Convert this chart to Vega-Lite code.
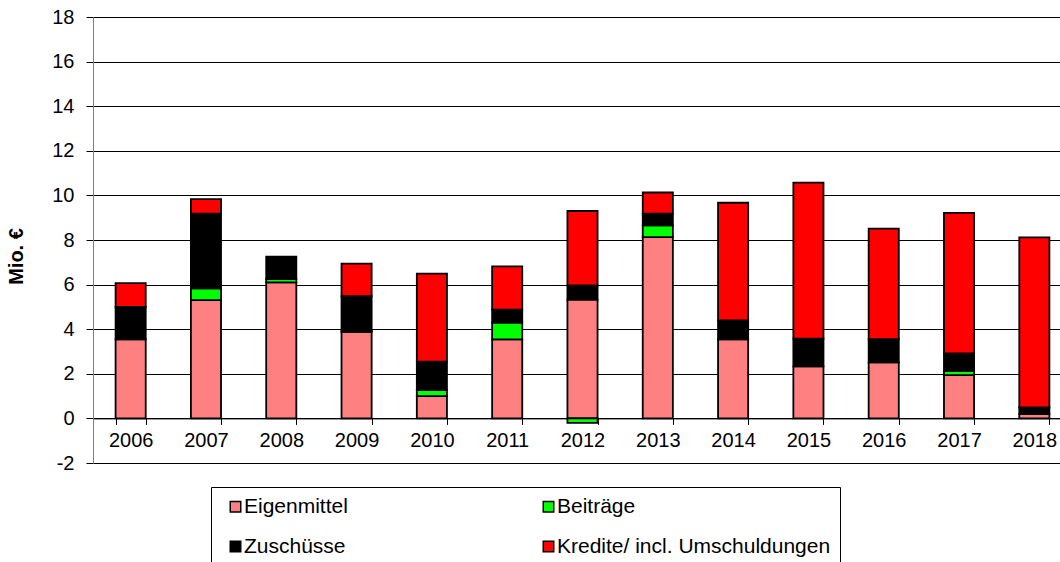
{
  "$schema": "https://vega.github.io/schema/vega-lite/v6.json",
  "autosize": "none",
  "width": 979,
  "height": 446,
  "padding": {"left": 93, "top": 17, "right": 0, "bottom": 99},
  "background": "white",
  "config": {
    "view": {"stroke": "#808080", "strokeWidth": 1},
    "font": "Liberation Sans"
  },
  "data": {
    "values": [
      {"year": "2006", "type": "Eigenmittel", "value": 3.55},
      {"year": "2006", "type": "Zuschüsse", "value": 1.45},
      {"year": "2006", "type": "Kredite/ incl. Umschuldungen", "value": 1.07},
      {"year": "2007", "type": "Eigenmittel", "value": 5.3},
      {"year": "2007", "type": "Beiträge", "value": 0.53},
      {"year": "2007", "type": "Zuschüsse", "value": 3.35},
      {"year": "2007", "type": "Kredite/ incl. Umschuldungen", "value": 0.65},
      {"year": "2008", "type": "Eigenmittel", "value": 6.1},
      {"year": "2008", "type": "Beiträge", "value": 0.15},
      {"year": "2008", "type": "Zuschüsse", "value": 1.0},
      {"year": "2009", "type": "Eigenmittel", "value": 3.88},
      {"year": "2009", "type": "Beiträge", "value": 0.05},
      {"year": "2009", "type": "Zuschüsse", "value": 1.55},
      {"year": "2009", "type": "Kredite/ incl. Umschuldungen", "value": 1.46},
      {"year": "2010", "type": "Eigenmittel", "value": 1.0},
      {"year": "2010", "type": "Beiträge", "value": 0.27},
      {"year": "2010", "type": "Zuschüsse", "value": 1.28},
      {"year": "2010", "type": "Kredite/ incl. Umschuldungen", "value": 3.94},
      {"year": "2011", "type": "Eigenmittel", "value": 3.54},
      {"year": "2011", "type": "Beiträge", "value": 0.76},
      {"year": "2011", "type": "Zuschüsse", "value": 0.58},
      {"year": "2011", "type": "Kredite/ incl. Umschuldungen", "value": 1.94},
      {"year": "2012", "type": "Eigenmittel", "value": 5.33},
      {"year": "2012", "type": "Beiträge", "value": -0.2},
      {"year": "2012", "type": "Zuschüsse", "value": 0.63},
      {"year": "2012", "type": "Kredite/ incl. Umschuldungen", "value": 3.34},
      {"year": "2013", "type": "Eigenmittel", "value": 8.13},
      {"year": "2013", "type": "Beiträge", "value": 0.53},
      {"year": "2013", "type": "Zuschüsse", "value": 0.52},
      {"year": "2013", "type": "Kredite/ incl. Umschuldungen", "value": 0.95},
      {"year": "2014", "type": "Eigenmittel", "value": 3.55},
      {"year": "2014", "type": "Zuschüsse", "value": 0.84},
      {"year": "2014", "type": "Kredite/ incl. Umschuldungen", "value": 5.28},
      {"year": "2015", "type": "Eigenmittel", "value": 2.33},
      {"year": "2015", "type": "Zuschüsse", "value": 1.25},
      {"year": "2015", "type": "Kredite/ incl. Umschuldungen", "value": 6.99},
      {"year": "2016", "type": "Eigenmittel", "value": 2.51},
      {"year": "2016", "type": "Zuschüsse", "value": 1.04},
      {"year": "2016", "type": "Kredite/ incl. Umschuldungen", "value": 4.96},
      {"year": "2017", "type": "Eigenmittel", "value": 1.94},
      {"year": "2017", "type": "Beiträge", "value": 0.19},
      {"year": "2017", "type": "Zuschüsse", "value": 0.78},
      {"year": "2017", "type": "Kredite/ incl. Umschuldungen", "value": 6.31},
      {"year": "2018", "type": "Eigenmittel", "value": 0.19},
      {"year": "2018", "type": "Zuschüsse", "value": 0.3},
      {"year": "2018", "type": "Kredite/ incl. Umschuldungen", "value": 7.63}
    ]
  },
  "transform": [
    {"calculate": "indexof(['Eigenmittel', 'Beiträge', 'Zuschüsse', 'Kredite/ incl. Umschuldungen'], datum.type)", "as": "stackOrder"}
  ],
  "mark": {"type": "bar", "stroke": "#000000", "strokeWidth": 1.8},
  "encoding": {
    "x": {
      "field": "year",
      "type": "ordinal",
      "scale": {"paddingInner": 0.6, "paddingOuter": 0.3},
      "axis": {
        "title": null,
        "offset": -44.6,
        "labelAngle": 0,
        "labelFontSize": 20,
        "labelColor": "#000000",
        "labelPadding": 6,
        "domainColor": "#000000",
        "domainWidth": 1,
        "tickBand": "extent",
        "tickColor": "#000000",
        "tickSize": 6,
        "labelFont": "Liberation Sans"
      }
    },
    "y": {
      "field": "value",
      "type": "quantitative",
      "stack": "zero",
      "scale": {"domain": [-2, 18], "nice": false, "zero": false},
      "axis": {
        "title": "Mio. €",
        "titleFontSize": 20,
        "titleFontWeight": "bold",
        "titleColor": "#000000",
        "titlePadding": 25,
        "titleY": 239,
        "titleFont": "Liberation Sans",
        "values": [-2, 0, 2, 4, 6, 8, 10, 12, 14, 16, 18],
        "labelExpr": "'' + datum.value",
        "labelFontSize": 20,
        "labelColor": "#000000",
        "labelFont": "Liberation Sans",
        "labelPadding": 12,
        "tickSize": 7,
        "tickColor": "#000000",
        "domainColor": "#808080",
        "gridColor": "#000000",
        "gridOpacity": 1,
        "gridWidth": 1
      }
    },
    "color": {
      "field": "type",
      "type": "nominal",
      "scale": {
        "domain": ["Eigenmittel", "Beiträge", "Zuschüsse", "Kredite/ incl. Umschuldungen"],
        "range": ["#FF8080", "#00FF00", "#000000", "#FF0000"]
      },
      "legend": {
        "title": null,
        "orient": "none",
        "legendX": 118,
        "legendY": 470,
        "direction": "horizontal",
        "columns": 2,
        "columnPadding": 185,
        "rowPadding": 18,
        "padding": 9,
        "strokeColor": "#000000",
        "symbolType": "square",
        "symbolSize": 110,
        "symbolOffset": 5,
        "symbolStrokeColor": "#000000",
        "symbolStrokeWidth": 1.5,
        "labelOffset": -2,
        "labelFontSize": 21,
        "labelColor": "#000000",
        "labelFont": "Liberation Sans",
        "labelLimit": 500
      }
    },
    "order": {"field": "stackOrder", "type": "quantitative"}
  }
}
